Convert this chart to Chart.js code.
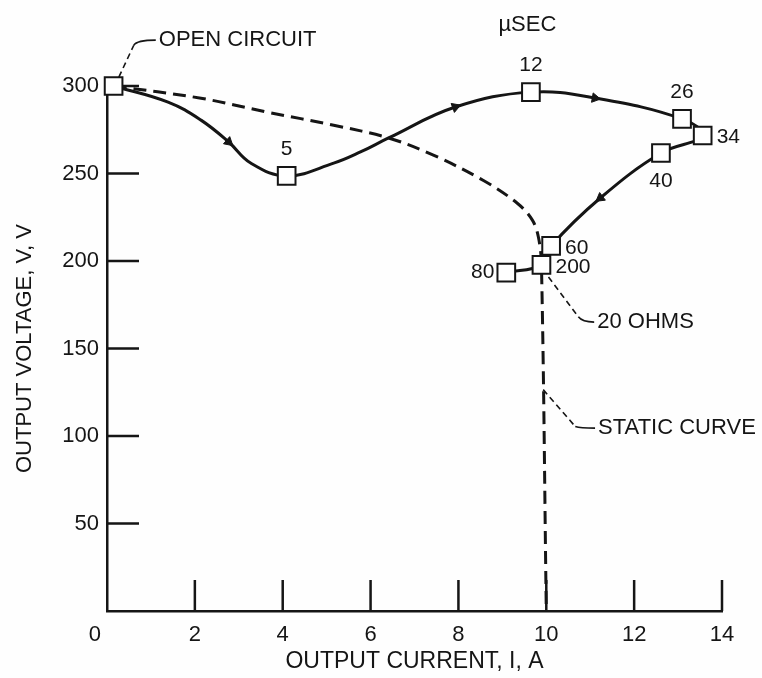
<!DOCTYPE html>
<html>
<head>
<meta charset="utf-8">
<title>Output voltage vs output current</title>
<script src="https://cdn.jsdelivr.net/npm/chart.js@4.4.0/dist/chart.umd.min.js"></script>
<style>
  html, body { margin: 0; padding: 0; background: #fefefe; }
  #wrap { width: 762px; height: 678px; }
</style>
</head>
<body>
<div id="wrap"><canvas id="ivChart" width="762" height="678"></canvas></div>
<script>
// Time marks along the transient (µsec)
const timeLabels = ['', '5', '12', '26', '34', '40', '60', '80', '200'];
const markCurrent = [0.15, 4.09, 9.65, 13.09, 13.56, 12.61, 10.11, 9.09, 9.89];
const markVoltage = [300, 248.6, 296.5, 281.2, 271.7, 261.7, 208.6, 193.4, 197.8];
const labelSide = ['none', 'top', 'top', 'top', 'right', 'bottom', 'right', 'left', 'right'];

// Transient path (solid curve)
const pathCurrent = [0.15, 1.39, 2.14, 2.77, 3.27, 4.09, 5.16, 5.77, 6.41, 7.93, 9.65, 11.11, 13.09, 13.56, 12.61, 11.23, 10.11, 9.89, 9.09];
const pathVoltage = [300, 290.8, 280.5, 268, 256, 248.6, 255.9, 262.3, 270.3, 288, 296.5, 293.1, 281.2, 271.7, 261.7, 236, 208.6, 197.8, 193.4];

// Static curve (dashed)
const staticCurrent = [0.15, 2.14, 3.66, 5.16, 6.41, 7.43, 8.57, 9.34, 9.68, 9.82, 9.89, 10.0];
const staticVoltage = [300, 293, 285, 277.6, 270.3, 260.5, 246, 233, 223.5, 213.7, 197.8, 0];

// Direction arrows on the solid curve
const arrowCurrent = [2.77, 7.93, 11.11, 11.23];
const arrowVoltage = [268, 288, 293.1, 236];
const arrowAngle = [131, 70, 100, 233];

// Axis ticks
const xTicks = [0, 2, 4, 6, 8, 10, 12, 14];
const yTicks = [0, 50, 100, 150, 200, 250, 300];

// Callout notes (text anchor and leader line in data units)
const notes = [
  { text: 'OPEN CIRCUIT', at: [1.18, 326.2], align: 'left', leader: [[0.27, 305.1], [0.61, 323.3], [0.68, 326.2], [1.11, 326.2]] },
  { text: 'µSEC', at: [9.57, 334.8], align: 'center' },
  { text: '20 OHMS', at: [11.16, 165.1], align: 'left', leader: [[10.05, 190.9], [10.73, 168.1], [10.82, 165.1], [11.09, 165.1]] },
  { text: 'STATIC CURVE', at: [11.18, 104.5], align: 'left', leader: [[9.93, 126.5], [10.66, 105.4], [10.77, 104.5], [11.11, 104.5]] }
];

const FONT = '"Liberation Sans", Arial, sans-serif';
const INK = '#151515';

const toPoints = (xs, ys) => xs.map((x, i) => ({ x: x, y: ys[i] }));

// inner tick marks, point labels and callouts
const decorations = {
  id: 'decorations',
  beforeDatasetsDraw(chart) {
    const { ctx, scales: { x, y } } = chart;
    ctx.save();
    ctx.strokeStyle = INK;
    ctx.lineWidth = 2.5;
    ctx.beginPath();
    yTicks.forEach(v => {
      if (v === 0) return;
      const py = y.getPixelForValue(v);
      ctx.moveTo(x.left, py);
      ctx.lineTo(x.left + 32, py);
    });
    xTicks.forEach(v => {
      if (v === 0) return;
      const px = x.getPixelForValue(v);
      ctx.moveTo(px, y.bottom);
      ctx.lineTo(px, y.bottom - 31);
    });
    ctx.stroke();
    ctx.restore();
  },
  afterDatasetsDraw(chart) {
    const { ctx, scales: { x, y } } = chart;
    const meta = chart.getDatasetMeta(0);
    ctx.save();
    ctx.fillStyle = INK;
    ctx.font = '21px ' + FONT;
    ctx.textBaseline = 'middle';
    meta.data.forEach((pt, i) => {
      const side = labelSide[i];
      if (side === 'none') return;
      if (side === 'top') { ctx.textAlign = 'center'; ctx.fillText(timeLabels[i], pt.x, pt.y - 27); }
      if (side === 'bottom') { ctx.textAlign = 'center'; ctx.fillText(timeLabels[i], pt.x, pt.y + 28); }
      if (side === 'right') { ctx.textAlign = 'left'; ctx.fillText(timeLabels[i], pt.x + 14, pt.y + 2); }
      if (side === 'left') { ctx.textAlign = 'right'; ctx.fillText(timeLabels[i], pt.x - 12, pt.y); }
    });

    ctx.font = '22px ' + FONT;
    notes.forEach(n => {
      ctx.textAlign = n.align;
      ctx.fillText(n.text, x.getPixelForValue(n.at[0]), y.getPixelForValue(n.at[1]));
      if (!n.leader) return;
      const p = n.leader.map(q => [x.getPixelForValue(q[0]), y.getPixelForValue(q[1])]);
      ctx.strokeStyle = INK;
      ctx.lineWidth = 1.6;
      ctx.setLineDash([6, 4]);
      ctx.beginPath();
      ctx.moveTo(p[0][0], p[0][1]);
      ctx.lineTo(p[1][0], p[1][1]);
      ctx.stroke();
      ctx.setLineDash([]);
      ctx.beginPath();
      ctx.moveTo(p[1][0], p[1][1]);
      ctx.quadraticCurveTo(p[2][0], p[2][1], p[3][0], p[3][1]);
      ctx.stroke();
    });
    ctx.restore();
  }
};

const ctx = document.getElementById('ivChart');
new Chart(ctx, {
  type: 'scatter',
  data: {
    datasets: [
      {
        label: 'time marks',
        data: toPoints(markCurrent, markVoltage),
        showLine: false,
        pointStyle: 'rect',
        pointRadius: 12.5,
        pointBackgroundColor: '#ffffff',
        pointBorderColor: INK,
        pointBorderWidth: 2,
        clip: false,
        order: 0
      },
      {
        label: 'arrows',
        data: toPoints(arrowCurrent, arrowVoltage),
        showLine: false,
        pointStyle: 'triangle',
        pointRadius: 5.5,
        pointRotation: arrowAngle,
        pointBackgroundColor: INK,
        pointBorderColor: INK,
        pointBorderWidth: 1,
        clip: false,
        order: 1
      },
      {
        label: 'transient',
        data: toPoints(pathCurrent, pathVoltage),
        showLine: true,
        tension: 0.4,
        pointRadius: 0,
        borderColor: INK,
        borderWidth: 3,
        clip: false,
        order: 2
      },
      {
        label: 'static curve',
        data: toPoints(staticCurrent, staticVoltage),
        showLine: true,
        tension: 0.35,
        pointRadius: 0,
        borderColor: INK,
        borderWidth: 3,
        borderDash: [13, 7],
        clip: false,
        order: 3
      }
    ]
  },
  options: {
    responsive: false,
    animation: false,
    events: [],
    layout: { padding: { top: 86, right: 40, left: 0, bottom: 0 } },
    plugins: {
      legend: { display: false },
      tooltip: { enabled: false }
    },
    scales: {
      x: {
        type: 'linear',
        min: 0,
        max: 14,
        afterFit: s => { s.height = 67; },
        afterBuildTicks: s => { s.ticks = xTicks.map(v => ({ value: v })); },
        grid: { display: false, drawTicks: false },
        border: { color: INK, width: 2.5 },
        ticks: {
          color: INK,
          font: { family: FONT, size: 22 },
          padding: 11,
          maxRotation: 0,
          // the zero sits a little left of the axis in the original
          callback: v => (v === 0 ? '0\u2007\u2007' : v)
        },
        title: { display: true, text: 'OUTPUT CURRENT, I, A', color: INK, font: { family: FONT, size: 23 }, padding: { top: 0, bottom: 3 } }
      },
      y: {
        type: 'linear',
        min: 0,
        max: 300,
        afterFit: s => { s.width = 107; },
        afterBuildTicks: s => { s.ticks = yTicks.map(v => ({ value: v })); },
        grid: { display: false, drawTicks: false },
        border: { color: INK, width: 2.5 },
        ticks: {
          color: INK,
          font: { family: FONT, size: 22 },
          padding: 8,
          callback: v => (v === 0 ? '' : v)
        },
        title: { display: true, text: 'OUTPUT VOLTAGE, V, V', color: INK, font: { family: FONT, size: 22 }, padding: { top: 12, bottom: 0 } }
      }
    }
  },
  plugins: [decorations]
});
</script>
</body>
</html>
